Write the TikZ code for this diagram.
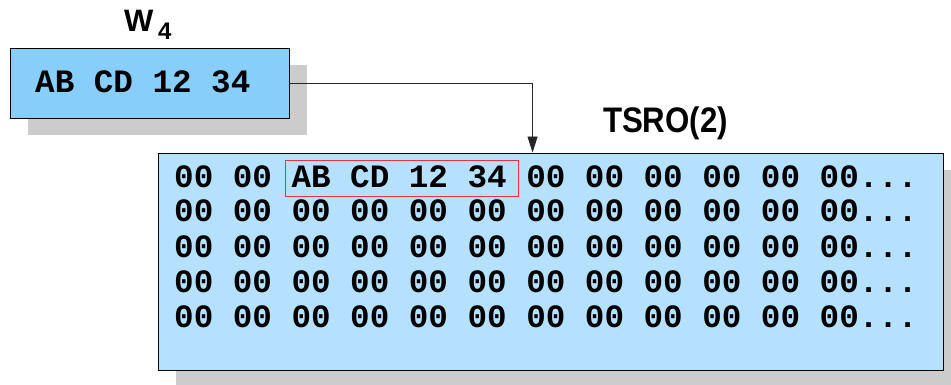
\documentclass[tikz,border=0pt]{standalone}
\usepackage{fontspec}
\usepackage{graphicx}
\usetikzlibrary{shadows,arrows.meta}
\newfontfamily\monofnt{Liberation Mono}
\newfontfamily\labfnt{Liberation Sans}
\definecolor{boxA}{HTML}{87CEFA}
\definecolor{boxB}{HTML}{B5E1FF}
\definecolor{shade}{HTML}{CCCCCC}
\definecolor{hlred}{HTML}{E8333A}
\tikzset{
  regbox/.style={draw=black, line width=0.9pt, inner sep=0pt,
    general shadow={fill=shade, shadow xshift=17.5pt, shadow yshift=-17.5pt}},
  rowtxt/.style={anchor=base west, inner sep=0pt,
    font=\monofnt\bfseries\fontsize{32.6}{36}\selectfont},
  conn/.style={draw=black!85, line width=0.8pt, -{Triangle[length=16pt,width=10pt]}}
}
\begin{document}
\begin{tikzpicture}[x=1pt,y=-1pt]
\clip (0,0) rectangle (951,385);
\fill[white] (0,0) rectangle (951,385);
% small register box
\node[regbox, fill=boxA, minimum width=279pt, minimum height=70pt] (w) at (149.5,83) {};
\node[rowtxt] (wtxt) at (35,93) {AB CD 12 34};
% W_4 label
\node[anchor=base west, inner sep=0pt, font=\labfnt\bfseries\fontsize{31}{32}\selectfont] (wl) at (124,32) {W};
\node[anchor=base west, inner sep=0pt, font=\labfnt\bfseries\fontsize{24}{26}\selectfont] (wsub) at (158,40) {4};
% big box
\node[regbox, fill=boxB, minimum width=785pt, minimum height=217pt] (t) at (550.5,261.5) {};
% TSRO(2) label
\node[anchor=base, inner sep=0pt, font=\labfnt\bfseries\fontsize{35.5}{38}\selectfont] (tl) at (665.5,133) {\scalebox{0.88}[1]{TSRO(2)}};
% rows
\node[rowtxt] (r1) at (174,187) {00 00 AB CD 12 34 00 00 00 00 00 00...};
\node[rowtxt] (r2) at (174,222) {00 00 00 00 00 00 00 00 00 00 00 00...};
\node[rowtxt] (r3) at (174,257) {00 00 00 00 00 00 00 00 00 00 00 00...};
\node[rowtxt] (r4) at (174,292) {00 00 00 00 00 00 00 00 00 00 00 00...};
\node[rowtxt] (r5) at (174,327) {00 00 00 00 00 00 00 00 00 00 00 00...};
% highlight
\node[draw=hlred, line width=0.8pt, inner sep=0pt, minimum width=233pt, minimum height=36pt] (hl) at (401.5,178) {};
% connector
\draw[conn] (w.east) -| ([xshift=375pt]t.north west);
\end{tikzpicture}
\end{document}
